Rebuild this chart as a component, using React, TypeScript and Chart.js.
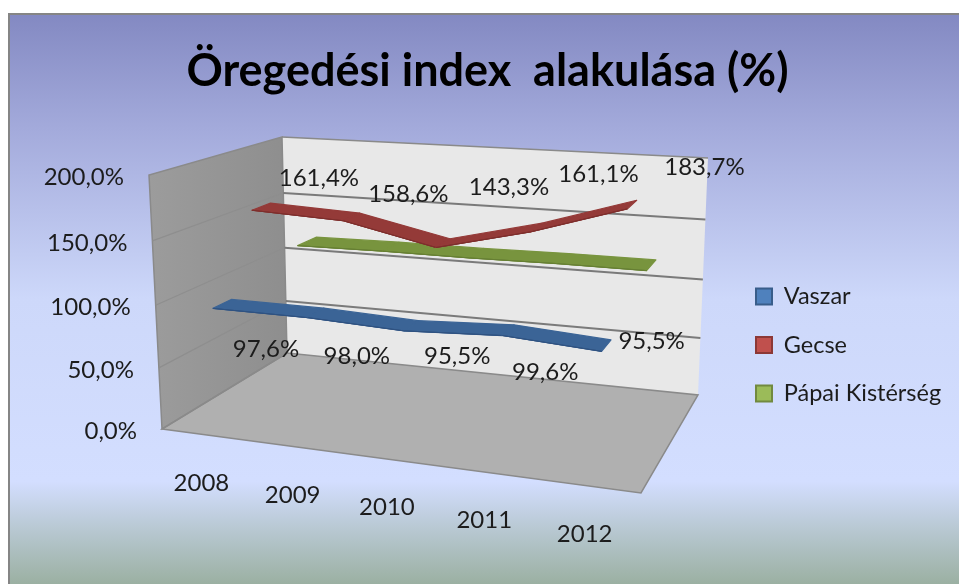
import React, { useEffect, useRef } from "react";
import { Chart, registerables } from "chart.js";

Chart.register(...registerables);

const years = ["2008", "2009", "2010", "2011", "2012"];
const vaszar = [97.6, 98.0, 95.5, 99.6, 95.5];
const gecse = [161.4, 158.6, 143.3, 161.1, 183.7];
const papai = [116, 117, 117, 118, 118];
const seriesNames = ["Vaszar", "Gecse", "Pápai Kistérség"];

const FONT = "Lato, Carlito, sans-serif";
const TEXT = "#1c1c1c";

// 3D box corners
type P = [number, number];
const FLb: P = [162, 429], FRb: P = [641, 493], BLb: P = [287, 353], BRb: P = [698, 395];
const FLt: P = [149, 175], FRt: P = [655, 213], BLt: P = [282, 137], BRt: P = [708, 158];

const lerp = (a: P, b: P, t: number): P => [a[0] + (b[0] - a[0]) * t, a[1] + (b[1] - a[1]) * t];
const warpU = (u: number) => u - 0.08 * u * (1 - u);
const warpV = (v: number) => v - 0.05 * v * (1 - v);
function project(u: number, v: number, z: number): P {
  const bottom = lerp(lerp(FLb, FRb, u), lerp(BLb, BRb, u), z);
  const top = lerp(lerp(FLt, FRt, u), lerp(BLt, BRt, u), z);
  return lerp(bottom, top, warpV(v));
}
const projectSeries = (u: number, v: number, z: number) => project(u - 0.04 * u * (1 - u), v, z);

const ribbonStyle = [
  { z: 0.08, fill: "#3b6496", edge: "#2f5281" },
  { z: 0.42, fill: "#943a38", edge: "#7d2e2c" },
  { z: 0.78, fill: "#78943e", edge: "#667f33" },
];
const ribbonDepth = 0.15;

const labelOffsets: (P[] | null)[] = [
  [[53, 41], [49, 39], [53, 25], [43, 37], [50, -10]],
  [[67, -32], [65, -27], [73, -60], [68, -58], [77, -42]],
  null,
];

function poly(ctx: CanvasRenderingContext2D, pts: P[]) {
  ctx.beginPath();
  pts.forEach((p, i) => (i ? ctx.lineTo(p[0], p[1]) : ctx.moveTo(p[0], p[1])));
  ctx.closePath();
}

const frame3d = {
  id: "frame3d",
  afterLayout(chart: any) {
    const lg = chart.legend;
    const dy = 345 - (lg.top + lg.bottom) / 2;
    const dx = 756 - (lg.left + lg.options.labels.padding);
    lg.top += dy;
    lg.bottom += dy;
    lg.left += dx;
    lg.right += dx;
  },
  beforeDraw(chart: any) {
    const { ctx, width, height } = chart;
    ctx.save();
    ctx.fillStyle = "#ffffff";
    ctx.fillRect(0, 0, width, height);
    const g = ctx.createLinearGradient(0, 14, 0, height);
    g.addColorStop(0, "#8389c2");
    g.addColorStop(0.2, "#a3aadb");
    g.addColorStop(0.5, "#cdd8fa");
    g.addColorStop(0.82, "#d3deff");
    g.addColorStop(0.9, "#b9c9d4");
    g.addColorStop(1, "#9bb0a2");
    ctx.fillStyle = g;
    ctx.fillRect(8, 13, width - 8, height - 13);
    ctx.fillStyle = "#858585";
    ctx.fillRect(8, 13, width - 8, 2);
    ctx.fillRect(8, 13, 2, height - 13);
    ctx.restore();
  },
  beforeDatasetsDraw(chart: any) {
    const { ctx, chartArea: a, scales } = chart;
    const yv = (val: number) => (a.bottom - scales.y.getPixelForValue(val)) / (a.bottom - a.top);
    ctx.save();
    // side wall
    const side = ctx.createLinearGradient(149, 0, 287, 0);
    side.addColorStop(0, "#9c9c9c");
    side.addColorStop(1, "#8e8e8e");
    ctx.fillStyle = side;
    poly(ctx, [FLb, FLt, BLt, BLb]);
    ctx.fill();
    // back wall
    ctx.fillStyle = "#e8e8e8";
    poly(ctx, [BLb, BLt, BRt, BRb]);
    ctx.fill();
    // floor
    ctx.fillStyle = "#b0b0b0";
    poly(ctx, [FLb, FRb, BRb, BLb]);
    ctx.fill();
    // outlines
    ctx.strokeStyle = "#8a8a8a";
    ctx.lineWidth = 1.5;
    poly(ctx, [FLb, FLt, BLt, BLb]);
    ctx.stroke();
    poly(ctx, [BLt, BRt]);
    ctx.stroke();
    poly(ctx, [FLb, FRb, BRb, BLb]);
    ctx.stroke();
    // gridlines
    for (const t of scales.y.ticks) {
      const v = yv(t.value);
      if (t.value > 0 && t.value < 200) {
        ctx.strokeStyle = "#8e8e8e";
        ctx.lineWidth = 1.2;
        poly(ctx, [project(0, v, 0), project(0, v, 1)]);
        ctx.stroke();
        ctx.strokeStyle = "#7a7a7a";
        ctx.lineWidth = 2;
        poly(ctx, [project(0, v, 1), project(1, v, 1)]);
        ctx.stroke();
      }
      // value tick label
      const p = project(0, v, 0);
      ctx.font = `24px ${FONT}`;
      ctx.fillStyle = TEXT;
      ctx.textAlign = "right";
      ctx.textBaseline = "middle";
      ctx.fillText(t.label, p[0] - 25, p[1] + 2);
    }
    // category labels
    ctx.textAlign = "center";
    years.forEach((_, i) => {
      const x = scales.x.getPixelForValue(i);
      const p = project(warpU((x - a.left) / (a.right - a.left)), 0, 0);
      ctx.fillText(scales.x.getLabelForValue(i), p[0] - 5, p[1] + 48);
    });
    ctx.restore();
  },
  beforeDatasetDraw(chart: any, args: any) {
    const { ctx, chartArea: a } = chart;
    const st = ribbonStyle[args.index];
    const pts = args.meta.data;
    const uv = (e: any): [number, number] => [
      (e.x - a.left) / (a.right - a.left),
      (a.bottom - e.y) / (a.bottom - a.top),
    ];
    ctx.save();
    for (let i = 0; i < pts.length - 1; i++) {
      const [u0, v0] = uv(pts[i]);
      const [u1, v1] = uv(pts[i + 1]);
      const quad = [
        projectSeries(u0, v0, st.z),
        projectSeries(u1, v1, st.z),
        projectSeries(u1, v1, st.z + ribbonDepth),
        projectSeries(u0, v0, st.z + ribbonDepth),
      ];
      ctx.fillStyle = st.fill;
      ctx.strokeStyle = st.fill;
      ctx.lineWidth = 1.2;
      ctx.lineJoin = "round";
      poly(ctx, quad);
      ctx.fill();
      ctx.stroke();
      ctx.strokeStyle = st.edge;
      ctx.lineWidth = 1;
      poly(ctx, [quad[0], quad[1]]);
      ctx.stroke();
    }
    ctx.restore();
    return false;
  },
  afterDatasetsDraw(chart: any) {
    const { ctx, chartArea: a } = chart;
    ctx.save();
    ctx.font = `24px ${FONT}`;
    ctx.fillStyle = TEXT;
    ctx.textAlign = "center";
    ctx.textBaseline = "middle";
    chart.data.datasets.forEach((ds: any, d: number) => {
      const offs = labelOffsets[d];
      if (!offs) return;
      const meta = chart.getDatasetMeta(d);
      meta.data.forEach((e: any, i: number) => {
        const u = (e.x - a.left) / (a.right - a.left);
        const v = (a.bottom - e.y) / (a.bottom - a.top);
        const p = projectSeries(u, v, ribbonStyle[d].z);
        const text = ds.data[i].toFixed(1).replace(".", ",") + "%";
        ctx.fillText(text, p[0] + offs[i][0], p[1] + offs[i][1]);
      });
    });
    ctx.restore();
  },
};

export default function App() {
  const ref = useRef<HTMLCanvasElement | null>(null);
  useEffect(() => {
    document.body.style.margin = "0";
    const chart = new Chart(ref.current!, {
      type: "line",
      data: {
        labels: years,
        datasets: [
          { label: seriesNames[0], data: vaszar, backgroundColor: "#4f81bd", borderColor: "#385d8a", borderWidth: 2, pointRadius: 0 },
          { label: seriesNames[1], data: gecse, backgroundColor: "#c0504d", borderColor: "#8c3836", borderWidth: 2, pointRadius: 0 },
          { label: seriesNames[2], data: papai, backgroundColor: "#9bbb59", borderColor: "#71893f", borderWidth: 2, pointRadius: 0 },
        ],
      },
      options: {
        responsive: false,
        animation: false,
        layout: { padding: { left: 16, right: 0, top: 44, bottom: 40 } },
        plugins: {
          title: {
            display: true,
            text: "Öregedési index  alakulása (%)",
            color: "#000000",
            font: { family: FONT, size: 45, weight: "bold" },
            padding: { top: 0, bottom: 20 },
          },
          legend: {
            position: "right",
            labels: {
              boxWidth: 16,
              boxHeight: 16,
              color: TEXT,
              font: { family: FONT, size: 23.5 },
              padding: 25,
              usePointStyle: false,
            },
          },
          tooltip: { enabled: false },
        },
        scales: {
          x: { offset: true, grid: { display: false }, border: { display: false }, ticks: { display: false } },
          y: {
            min: 0,
            max: 200,
            grid: { display: false },
            border: { display: false },
            ticks: {
              display: false,
              stepSize: 50,
              callback: (v: any) => Number(v).toFixed(1).replace(".", ",") + "%",
            },
          },
        },
      } as any,
      plugins: [frame3d as any],
    });
    return () => chart.destroy();
  }, []);
  return <canvas ref={ref} width={959} height={584} style={{ display: "block", filter: "blur(0.5px)" }} />;
}
